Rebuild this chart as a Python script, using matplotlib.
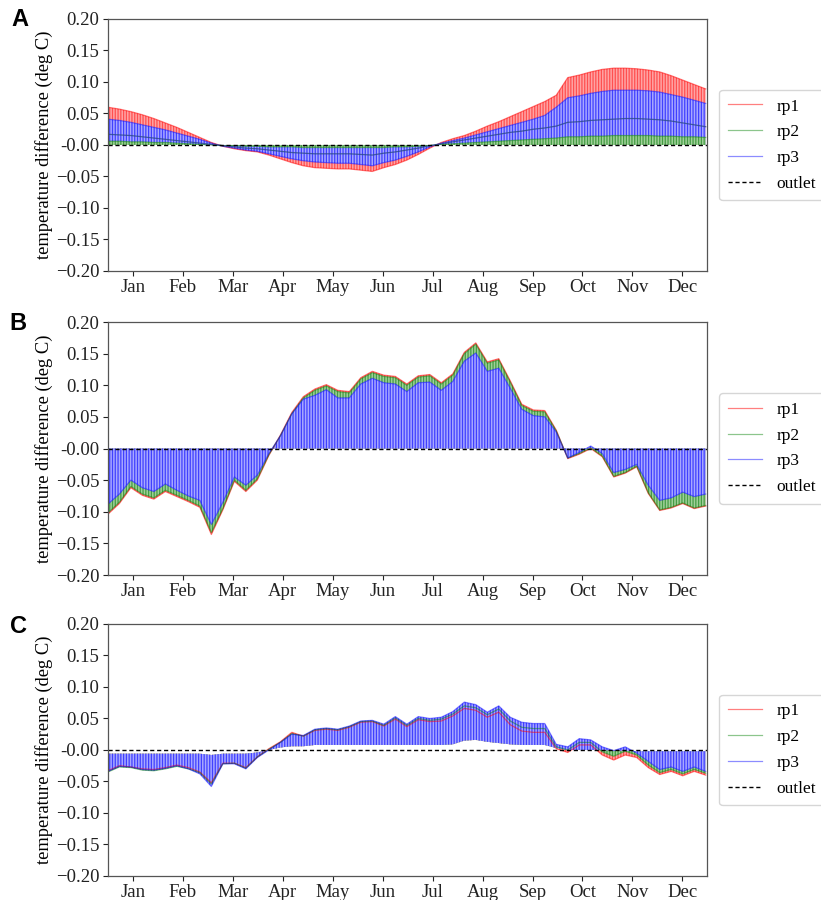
import numpy as np
import matplotlib
matplotlib.use('Agg')
import matplotlib.pyplot as plt

plt.rcParams['font.family'] = ['Liberation Serif', 'DejaVu Serif']
plt.rcParams['hatch.linewidth'] = 0.9

# weekly samples, day of year
days = np.arange(0, 365, 7)
months = ['Jan', 'Feb', 'Mar', 'Apr', 'May', 'Jun', 'Jul', 'Aug', 'Sep', 'Oct', 'Nov', 'Dec']

# ---- panel A
a_rp1 = [0.060, 0.057, 0.053, 0.048, 0.042, 0.035, 0.028, 0.020, 0.012, 0.004,
         -0.002, -0.006, -0.009, -0.011, -0.016, -0.022, -0.028, -0.033, -0.036, -0.037,
         -0.038, -0.038, -0.040, -0.042, -0.036, -0.031, -0.024, -0.015, -0.005, 0.004,
         0.010, 0.015, 0.022, 0.030, 0.037, 0.045, 0.053, 0.061, 0.069, 0.079,
         0.107, 0.111, 0.116, 0.120, 0.122, 0.122, 0.121, 0.119, 0.116, 0.110,
         0.103, 0.096, 0.089]
a_rp2 = [0.006, 0.006, 0.005, 0.005, 0.004, 0.004, 0.003, 0.002, 0.001, 0.000,
         -0.001, -0.001, -0.002, -0.002, -0.003, -0.003, -0.003, -0.004, -0.004, -0.004,
         -0.004, -0.004, -0.004, -0.004, -0.004, -0.003, -0.003, -0.002, -0.001, 0.001,
         0.002, 0.003, 0.004, 0.005, 0.006, 0.007, 0.008, 0.009, 0.010, 0.011,
         0.013, 0.013, 0.014, 0.014, 0.015, 0.015, 0.015, 0.015, 0.014, 0.014,
         0.013, 0.013, 0.012]
a_rp3 = [0.041, 0.039, 0.036, 0.032, 0.028, 0.024, 0.019, 0.014, 0.009, 0.003,
         -0.002, -0.005, -0.008, -0.010, -0.014, -0.018, -0.022, -0.025, -0.027, -0.028,
         -0.029, -0.029, -0.031, -0.033, -0.028, -0.024, -0.018, -0.011, -0.003, 0.003,
         0.007, 0.011, 0.016, 0.021, 0.026, 0.031, 0.036, 0.041, 0.047, 0.060,
         0.075, 0.078, 0.082, 0.085, 0.087, 0.087, 0.087, 0.086, 0.084, 0.080,
         0.076, 0.071, 0.066]
a_mean = [0.017, 0.016, 0.015, 0.013, 0.011, 0.009, 0.007, 0.005, 0.003, 0.001,
          -0.001, -0.003, -0.005, -0.006, -0.008, -0.010, -0.012, -0.013, -0.014, -0.014,
          -0.014, -0.014, -0.015, -0.016, -0.013, -0.011, -0.008, -0.005, -0.001, 0.002,
          0.005, 0.008, 0.011, 0.014, 0.017, 0.020, 0.022, 0.025, 0.027, 0.030,
          0.036, 0.037, 0.039, 0.040, 0.041, 0.042, 0.042, 0.041, 0.040, 0.038,
          0.035, 0.032, 0.029]

# ---- panel B
b_rp1 = [-0.104, -0.087, -0.062, -0.074, -0.080, -0.068, -0.076, -0.084, -0.093, -0.136,
         -0.097, -0.052, -0.068, -0.050, -0.011, 0.021, 0.057, 0.082, 0.094, 0.101,
         0.092, 0.090, 0.112, 0.122, 0.116, 0.114, 0.102, 0.115, 0.117, 0.104,
         0.118, 0.152, 0.167, 0.137, 0.142, 0.107, 0.070, 0.061, 0.060, 0.029,
         -0.016, -0.009, 0.000, -0.013, -0.045, -0.039, -0.029, -0.071, -0.098, -0.094,
         -0.087, -0.095, -0.091]
b_rp2 = [-0.102, -0.085, -0.060, -0.072, -0.078, -0.066, -0.074, -0.082, -0.091, -0.133,
         -0.095, -0.050, -0.066, -0.048, -0.010, 0.020, 0.055, 0.080, 0.092, 0.099,
         0.090, 0.088, 0.110, 0.120, 0.114, 0.112, 0.100, 0.113, 0.115, 0.102,
         0.116, 0.150, 0.165, 0.135, 0.140, 0.105, 0.068, 0.059, 0.058, 0.028,
         -0.015, -0.008, 0.001, -0.012, -0.044, -0.038, -0.028, -0.070, -0.097, -0.093,
         -0.086, -0.094, -0.090]
b_rp3 = [-0.088, -0.072, -0.050, -0.062, -0.068, -0.056, -0.066, -0.075, -0.082, -0.120,
         -0.085, -0.045, -0.058, -0.042, -0.008, 0.020, 0.055, 0.078, 0.084, 0.093,
         0.080, 0.080, 0.102, 0.111, 0.104, 0.102, 0.090, 0.104, 0.105, 0.092,
         0.106, 0.138, 0.151, 0.122, 0.127, 0.095, 0.062, 0.052, 0.050, 0.026,
         -0.015, -0.006, 0.004, -0.008, -0.038, -0.033, -0.025, -0.058, -0.082, -0.078,
         -0.069, -0.076, -0.072]

# ---- panel C
c_rp1 = [-0.033, -0.025, -0.027, -0.030, -0.031, -0.028, -0.024, -0.028, -0.035, -0.052,
         -0.021, -0.021, -0.028, -0.011, 0.002, 0.013, 0.028, 0.022, 0.031, 0.033,
         0.031, 0.036, 0.044, 0.045, 0.038, 0.049, 0.037, 0.048, 0.045, 0.046,
         0.054, 0.066, 0.063, 0.052, 0.060, 0.040, 0.030, 0.028, 0.028, 0.002,
         -0.004, 0.008, 0.008, -0.008, -0.016, -0.008, -0.012, -0.028, -0.039, -0.034,
         -0.041, -0.034, -0.040]
c_rp2 = [-0.035, -0.027, -0.028, -0.032, -0.033, -0.030, -0.026, -0.030, -0.036, -0.054,
         -0.022, -0.021, -0.029, -0.011, 0.001, 0.012, 0.026, 0.022, 0.032, 0.034,
         0.032, 0.037, 0.045, 0.046, 0.039, 0.051, 0.039, 0.050, 0.047, 0.049,
         0.057, 0.070, 0.067, 0.056, 0.065, 0.046, 0.036, 0.034, 0.034, 0.005,
         0.000, 0.012, 0.012, -0.003, -0.010, -0.002, -0.008, -0.024, -0.036, -0.031,
         -0.038, -0.031, -0.037]
c_rp3 = [-0.034, -0.026, -0.027, -0.031, -0.032, -0.029, -0.025, -0.030, -0.038, -0.058,
         -0.022, -0.022, -0.030, -0.012, 0.000, 0.012, 0.025, 0.023, 0.033, 0.035,
         0.033, 0.038, 0.046, 0.047, 0.041, 0.053, 0.041, 0.053, 0.050, 0.052,
         0.061, 0.076, 0.072, 0.060, 0.070, 0.052, 0.044, 0.042, 0.042, 0.009,
         0.005, 0.018, 0.016, 0.005, -0.001, 0.005, -0.005, -0.018, -0.031, -0.027,
         -0.034, -0.027, -0.034]
c_base = [-0.006, -0.006, -0.006, -0.006, -0.006, -0.006, -0.006, -0.006, -0.006, -0.008,
          -0.006, -0.006, -0.006, -0.004, 0.000, 0.004, 0.006, 0.006, 0.008, 0.008,
          0.008, 0.008, 0.008, 0.008, 0.008, 0.008, 0.008, 0.008, 0.008, 0.008,
          0.009, 0.015, 0.016, 0.013, 0.011, 0.009, 0.008, 0.008, 0.008, 0.003,
          0.000, 0.000, 0.000, 0.000, -0.001, -0.001, -0.002, -0.002, -0.002, -0.002,
          -0.002, -0.002, -0.002]

# stem colours: (light face, darker stripe)
stem_col = {'rp1': ('#ffa4a4', '#ff5050'),
            'rp2': ('#a0d098', '#459c45'),
            'rp3': ('#a8a8ff', '#4040ff')}

panels = [
    ('A', a_rp1, a_rp2, a_rp3, np.zeros(len(days)), a_mean, ['rp1', 'rp3', 'rp2']),
    ('B', b_rp1, b_rp2, b_rp3, np.zeros(len(days)), None, ['rp1', 'rp2', 'rp3']),
    ('C', c_rp1, c_rp2, c_rp3, c_base, None, ['rp1', 'rp2', 'rp3']),
]
# axes boxes in figure fraction (left, bottom, width, height)
boxes = [[0.1314, 0.6989, 0.7302, 0.2800],
         [0.1314, 0.3611, 0.7302, 0.2811],
         [0.1314, 0.0267, 0.7302, 0.2800]]
letter_pos = [(0.024, 0.978), (0.022, 0.641), (0.022, 0.304)]

yt = np.round(np.arange(-0.2, 0.201, 0.05), 2)
ylabels = ['%.2f' % v if v >= 0 else '\u2212%.2f' % -v for v in yt]

fig = plt.figure(figsize=(8.21, 9), dpi=100)

for (letter, rp1, rp2, rp3, base, mean, order), box, lp in zip(panels, boxes, letter_pos):
    ax = fig.add_axes(box)
    series = {'rp1': rp1, 'rp2': rp2, 'rp3': rp3}
    for name in order:
        face, stripe = stem_col[name]
        ax.fill_between(days, base, series[name], facecolor=face, edgecolor=stripe,
                        hatch='||||||', linewidth=0)
    ax.plot(days, rp1, color='red', alpha=0.5, lw=0.9, label='rp1')
    ax.plot(days, rp2, color='green', alpha=0.45, lw=0.9, label='rp2')
    ax.plot(days, rp3, color='blue', alpha=0.45, lw=0.9, label='rp3')
    if mean is not None:
        ax.plot(days, mean, color='#2b4a8a', alpha=0.8, lw=0.9)
    ax.axhline(0, color='black', ls='--', lw=1.0, dashes=(3, 2), label='outlet')

    ax.set_xlim(0, 365)
    ax.set_ylim(-0.2, 0.2)
    ax.set_yticks(yt)
    ax.set_yticklabels(ylabels)
    ax.set_xticks((np.arange(12) + 0.5) * 365 / 12)
    ax.set_xticklabels(months)
    ax.tick_params(labelsize=13.5, direction='out', length=3.5, width=0.8,
                   colors='#222222', pad=2.5)
    for s in ax.spines.values():
        s.set_color('#555555')
        s.set_linewidth(0.9)
    ax.set_ylabel('temperature difference (deg C)', fontsize=13.3, labelpad=2)

    ax.legend(loc='center left', bbox_to_anchor=(1.005, 0.5), fontsize=12.5,
              handlelength=2.0, handletextpad=0.8, labelspacing=0.55, frameon=True,
              edgecolor='#cccccc', fancybox=True, borderpad=0.5)

    fig.text(lp[0], lp[1], letter, fontsize=17, fontweight='bold',
             family='Liberation Sans', ha='center', va='center')

fig.savefig('out.png', dpi=100)
